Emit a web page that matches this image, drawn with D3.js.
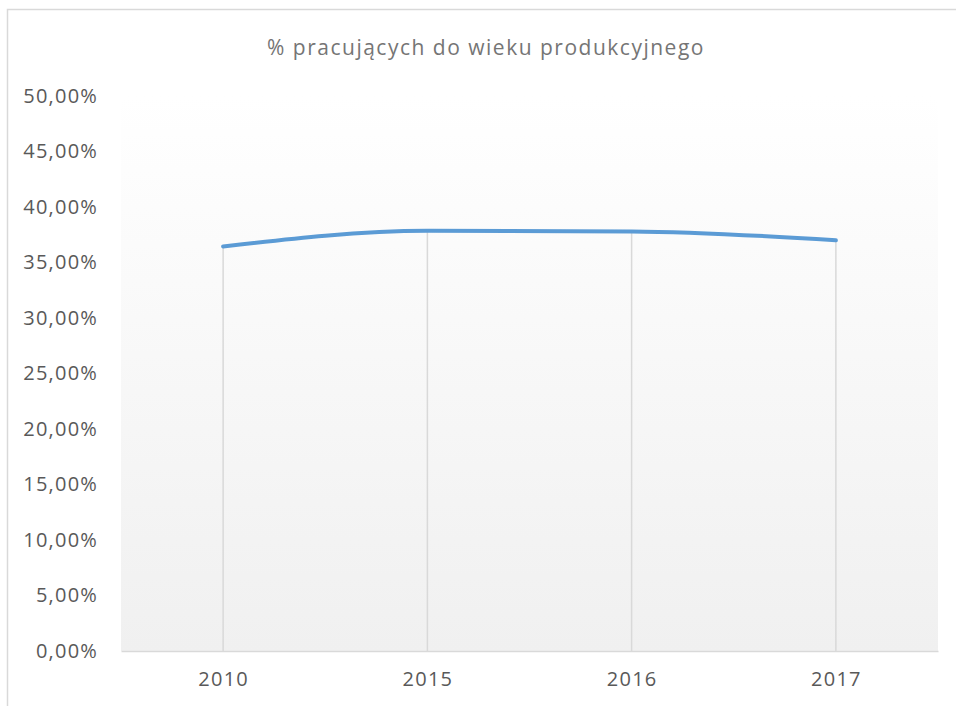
<!DOCTYPE html>
<html>
<head>
<meta charset="utf-8">
<script src="https://cdn.jsdelivr.net/npm/d3@7"></script>
<style>
  html, body { margin: 0; padding: 0; background: #fff; }
  svg { display: block; font-family: "Open Sans", "Noto Sans", sans-serif; }
</style>
</head>
<body>
<div id="chart"></div>
<script>
  // chart data
  var title = "% pracujących do wieku produkcyjnego";
  var years = ["2010", "2015", "2016", "2017"];
  var shares = [0.3645, 0.3785, 0.3780, 0.3700];
  var yTicks = [0, 0.05, 0.10, 0.15, 0.20, 0.25, 0.30, 0.35, 0.40, 0.45, 0.50];

  var width = 956, height = 706;
  var margin = {top: 96, right: 18, bottom: 55, left: 121};
  var w = width - margin.left - margin.right,
      h = height - margin.top - margin.bottom;

  var svg = d3.select("#chart").append("svg")
    .attr("width", width)
    .attr("height", height);

  // chart border (cropped on right / bottom)
  svg.append("rect")
    .attr("x", 7.5).attr("y", 9.5)
    .attr("width", width + 20).attr("height", height + 20)
    .attr("fill", "#fff")
    .attr("stroke", "#d9d9d9")
    .attr("stroke-width", 1.5);

  var grad = svg.append("defs").append("linearGradient")
    .attr("id", "plotBg")
    .attr("x1", 0).attr("y1", 0).attr("x2", 0).attr("y2", 1);
  grad.append("stop").attr("offset", "0%").attr("stop-color", "#ffffff");
  grad.append("stop").attr("offset", "100%").attr("stop-color", "#f0f0f0");

  var g = svg.append("g")
    .attr("transform", "translate(" + margin.left + "," + margin.top + ")");

  var x = d3.scalePoint().domain(years).range([0, w]).padding(0.5);
  var y = d3.scaleLinear().domain([0, 0.5]).range([h, 0]);

  g.append("rect")
    .attr("width", w).attr("height", h)
    .attr("fill", "url(#plotBg)");

  // title
  svg.append("text")
    .attr("x", 486)
    .attr("y", 55)
    .attr("text-anchor", "middle")
    .attr("fill", "#757575")
    .style("font-size", "21px")
    .style("letter-spacing", "1.5px")
    .text(title);

  // y axis labels (no axis line)
  var fmt = function(v){ return d3.format(".2f")(v * 100).replace(".", ",") + "%"; };
  var yAxis = g.append("g")
    .call(d3.axisLeft(y).tickValues(yTicks).tickFormat(fmt).tickSize(0).tickPadding(23));
  yAxis.select(".domain").remove();
  yAxis.selectAll("text")
    .attr("fill", "#595959")
    .style("font-size", "20px")
    .style("letter-spacing", "1.2px")
    .style("font-family", "\"Open Sans\", sans-serif");

  // x axis
  var xAxis = g.append("g")
    .attr("transform", "translate(0," + h + ")")
    .call(d3.axisBottom(x).tickSize(0).tickPadding(21));
  xAxis.select(".domain")
    .attr("stroke", "#d9d9d9")
    .attr("stroke-width", 1.5);
  xAxis.selectAll("text")
    .attr("fill", "#595959")
    .style("font-size", "20px")
    .style("letter-spacing", "1.2px")
    .style("font-family", "\"Open Sans\", sans-serif");

  var data = years.map(function(d, i){ return {year: d, value: shares[i]}; });

  // drop lines
  g.selectAll(".drop")
    .data(data)
    .enter().append("line")
    .attr("class", "drop")
    .attr("x1", function(d){ return x(d.year); })
    .attr("x2", function(d){ return x(d.year); })
    .attr("y1", function(d){ return y(d.value); })
    .attr("y2", h)
    .attr("stroke", "#d9d9d9")
    .attr("stroke-width", 1.5);

  var line = d3.line()
    .x(function(d){ return x(d.year); })
    .y(function(d){ return y(d.value); })
    .curve(d3.curveMonotoneX);

  g.append("path")
    .datum(data)
    .attr("d", line)
    .attr("fill", "none")
    .attr("stroke", "#5b9bd5")
    .attr("stroke-width", 4)
    .attr("stroke-linecap", "round");
</script>
</body>
</html>
